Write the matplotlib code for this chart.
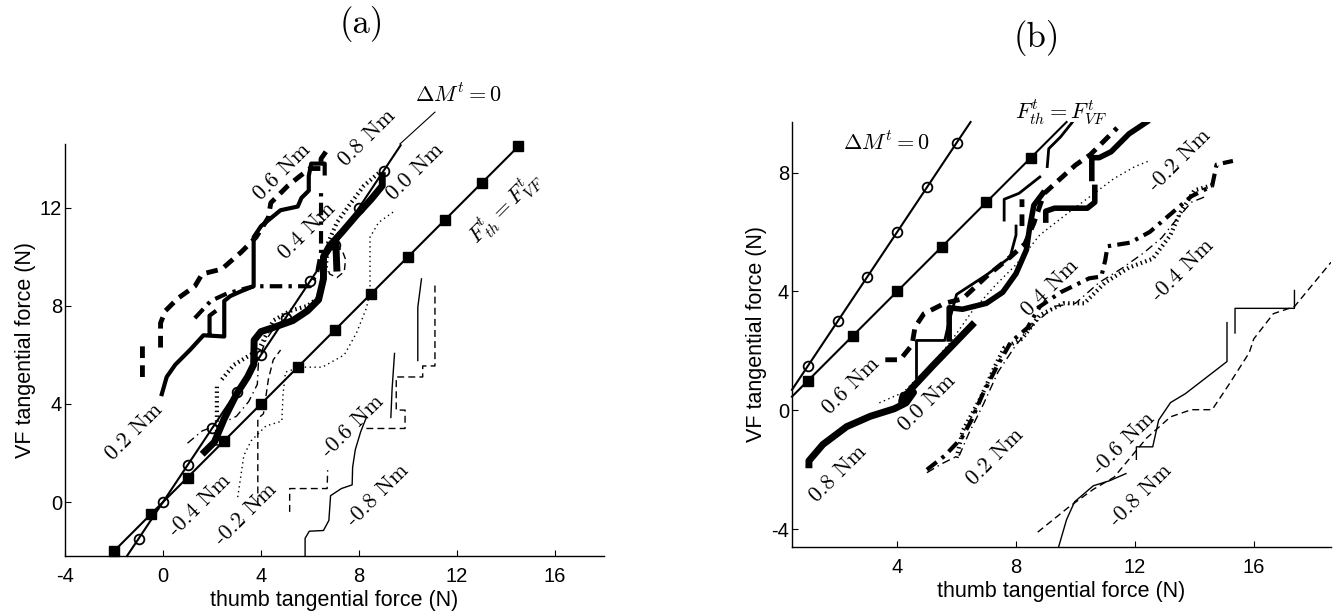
import numpy as np
import matplotlib.pyplot as plt

plt.rcParams['font.family'] = ['Liberation Sans', 'DejaVu Sans']
plt.rcParams['mathtext.fontset'] = 'cm'
plt.rcParams['axes.unicode_minus'] = False

nan = np.nan

# ---------------- panel (a) data ----------------
# Delta M^t = 0 line (circles) and F_th = F_VF line (squares)
a_circ_x = [-1.47, -1, 0, 1, 2, 3, 4, 5, 6, 7, 8, 9, 9.7]
a_circ_y = [-2.2, -1.5, 0, 1.5, 3, 4.5, 6, 7.5, 9, 10.5, 12, 13.5, 14.55]
a_sq_x = [-2, -0.5, 1, 2.5, 4, 5.5, 7, 8.5, 10, 11.5, 13, 14.5]
a_sq_y = [-2, -0.5, 1, 2.5, 4, 5.5, 7, 8.5, 10, 11.5, 13, 14.5]

# torque curves
a_hvy_x = [1.6, 2.1, 2.5, 3.0, 3.45, 3.7, 3.72, 4.0, 4.6, 5.3, 5.9, 6.35, 6.55, 6.55, 6.8, 7.3, 7.9, 8.5, 8.95, 8.95, nan, 7.05, 7.1]
a_hvy_y = [1.95, 2.45, 3.4, 4.4, 5.1, 5.6, 6.6, 6.95, 7.15, 7.4, 7.8, 8.25, 9.1, 10.0, 10.45, 11.0, 11.7, 12.35, 12.9, 13.45, nan, 10.7, 9.4]
a_thk_x = [-0.05, 0.15, 0.5, 1.1, 1.65, 2.5, 2.5, 2.75, 3.2, 3.7, 3.7, 4.0, 4.8, 5.5, 5.65, 5.95, 5.95, 6.05, 6.6, 6.6, nan, 1.9, 1.9, 2.1]
a_thk_y = [4.4, 5.1, 5.6, 6.2, 6.8, 6.75, 8.2, 8.4, 8.6, 8.8, 10.8, 11.25, 11.9, 12.05, 12.4, 12.7, 13.3, 13.8, 13.8, 13.4, nan, 6.85, 7.6, 7.75]
a_hdash_x = [-0.84, -0.84, nan, -0.1, -0.1, 0.1, 0.6, 1.3, 1.6, 2.4, 3.2, 3.8, 4.3, 4.4, 5.1, 5.6, 6.0, 6.45, 6.45, 6.8]
a_hdash_y = [5.1, 6.6, nan, 6.3, 7.3, 7.8, 8.3, 8.8, 9.3, 9.5, 10.2, 10.8, 11.6, 12.2, 12.9, 13.3, 13.6, 13.6, 14.0, 14.5]
a_hdd_x = [1.3, 1.95, 2.6, 3.7, 6.0, 6.3, 6.45, 6.45]
a_hdd_y = [7.5, 8.2, 8.5, 8.8, 8.8, 9.4, 10.2, 12.8]
a_hdot_x = [2.2, 2.2, nan, 2.4, 2.9, 3.4, 3.9, 4.5, 5.2, 5.9, 6.3, 6.6, 6.75, 7.1, 7.6, 8.2, 8.9]
a_hdot_y = [2.3, 4.8, nan, 5.0, 5.6, 5.9, 6.2, 7.4, 7.8, 8.0, 8.3, 9.2, 10.6, 11.4, 12.1, 12.9, 13.5]
a_tdot_x = [3.05, 3.3, 3.6, 4.2, 4.85, 4.9, 5.0, 5.6, 6.5, 7.4, 7.9, 8.3, 8.45, 8.45, 8.8, 9.5]
a_tdot_y = [0.2, 1.9, 2.5, 3.1, 3.3, 4.4, 5.3, 5.5, 5.5, 6.0, 6.9, 7.9, 8.6, 10.8, 11.4, 11.9]
a_tdd_x = [1.0, 1.6, 2.4, 3.0, 3.5, 3.85, 3.9, 4.2, 4.6, 5.2]
a_tdd_y = [2.4, 2.9, 3.2, 3.5, 4.1, 4.8, 5.8, 6.6, 7.2, 7.6]
a_tdash_x = [5.17, 5.17, 6.7, 6.72, nan, 8.3, 9.88, 9.88, 9.52, 9.52, 10.6, 10.6, 11.1, 11.1, nan, 3.87, 3.87, 4.1, 4.3, 4.5, 4.8,
             nan, 6.6, 6.9, 7.3, 7.45, 7.4, 7.1, 6.8, 6.7]
a_tdash_y = [-0.4, 0.55, 0.55, 1.3, nan, 3.0, 3.0, 3.75, 3.75, 5.1, 5.1, 5.55, 5.55, 9.0, nan, -0.1, 3.4, 3.6, 5.0, 5.8, 6.2,
             nan, 10.2, 10.4, 10.3, 9.9, 9.4, 9.15, 9.3, 9.6]
a_tsol_x = [5.8, 5.8, 5.97, 6.55, 6.77, 6.84, 7.28, 7.72, 7.74, 7.85, 8.07, 8.3, nan, 9.3, 9.35, 9.45, nan, 10.4, 10.4, 10.55]
a_tsol_y = [-2.2, -1.48, -1.19, -1.16, -0.75, 0.26, 0.55, 0.7, 1.42, 2.14, 2.87, 3.45, nan, 3.45, 4.6, 6.06, nan, 5.77, 7.94, 9.1]

a_lab_text = ['0.8 Nm', '0.6 Nm', '0.4 Nm', '0.2 Nm', '0.0 Nm', '-0.2 Nm', '-0.4 Nm', '-0.6 Nm', '-0.8 Nm']
a_lab_x = [8.32, 4.84, 5.9, -1.17, 10.28, 3.39, 1.51, 7.74, 8.75]
a_lab_y = [14.87, 13.45, 11.06, 2.87, 13.45, -0.49, -0.13, 3.09, 0.3]

# ---------------- panel (b) data ----------------
b_circ_x = [0.46, 1, 2, 3, 4, 5, 6, 6.47]
b_circ_y = [0.69, 1.5, 3, 4.5, 6, 7.5, 9, 9.7]
b_sq_x = [0.46, 1, 2.5, 4, 5.5, 7, 8.5, 9.7]
b_sq_y = [0.46, 1, 2.5, 4, 5.5, 7, 8.5, 9.7]

b_hvy_x = [1.03, 1.03, 1.5, 2.3, 3.1, 3.9, 4.3, 4.55, 4.2, 4.15, 4.5, 5.2, 6.6]
b_hvy_y = [-1.95, -1.7, -1.15, -0.55, -0.2, 0.05, 0.25, 0.6, 0.5, 0.3, 0.75, 1.5, 2.95]
b_thk_x = [5.75, 5.75, 6.2, 7.0, 7.55, 8.0, 8.35, 8.45, 8.6, 8.9, nan, 9.0, 9.0, 9.3, 10.4, 10.65, 10.65,
           nan, 10.55, 10.55, 10.8, 11.2, 11.8, 12.4]
b_thk_y = [2.4, 3.45, 3.4, 3.6, 3.97, 4.6, 5.4, 6.1, 6.9, 7.3, nan, 6.4, 6.7, 6.8, 6.8, 7.0, 7.5,
           nan, 7.8, 8.5, 8.5, 8.7, 9.3, 9.7]
b_hdash_x = [3.6, 4.1, 4.5, 4.6, 4.9, 5.6, 6.2, 7.0, 7.8, 8.3, 8.6, 8.95, 9.5, 10.0, 10.5, 11.1, 11.4, nan, 8.2, 8.2]
b_hdash_y = [1.7, 1.7, 2.2, 2.8, 3.25, 3.6, 3.75, 4.5, 5.15, 5.6, 6.3, 7.3, 7.8, 8.25, 8.6, 9.2, 9.5, nan, 6.2, 7.1]
b_med_x = [4.65, 4.65, 5.6, 5.75, 6.0, 7.0, 7.8, 8.0, 8.0, nan, 7.6, 7.6, 8.1, 8.8, nan, 9.05, 9.1, 9.5, 9.9]
b_med_y = [1.1, 2.35, 2.35, 3.0, 3.9, 4.55, 5.15, 5.9, 6.2, nan, 6.4, 7.1, 7.3, 7.85, nan, 8.2, 8.8, 9.2, 9.7]
b_hdd_x = [5.0, 5.6, 6.17, 6.5, 6.86, 7.35, 7.83, 8.38, 8.8, 9.5, 10.46, 10.87, 11.0, 11.08, 11.84, 12.5, 13.2, 13.9, 14.6, 14.75, 15.3]
b_hdd_y = [-2.0, -1.53, -0.93, -0.33, 0.5, 1.46, 2.3, 2.77, 3.49, 3.97, 4.44, 4.5, 5.04, 5.52, 5.64, 6.0, 6.6, 7.2, 7.55, 8.27, 8.39]
b_hdot_x = [6.0, 6.2, 6.8, 7.3, 7.6, 8.2, 8.8, 9.6, 10.3, 11.0, 11.8, 12.6, 13.2, 13.5, 14.0, 14.7]
b_hdot_y = [-1.6, -0.7, 0.4, 1.5, 2.1, 2.4, 3.2, 3.6, 3.6, 4.3, 4.8, 5.1, 5.9, 6.6, 7.4, 7.6]
b_tdot_x = [3.4, 4.2, 5.2, 5.8, 6.5, 7.3, 8.0, 8.8, 9.7, 10.5, 11.3, 12.0, 12.5]
b_tdot_y = [0.25, 0.6, 1.6, 2.3, 3.3, 4.2, 4.9, 5.9, 6.6, 7.2, 7.8, 8.2, 8.4]
b_tdd_x = [5.0, 5.5, 6.1, 6.4, 6.9, 7.4, 8.0, 8.6, 9.3, 10.0, 10.8, 11.6, 12.3, 12.9, 13.3, 13.9, 14.4]
b_tdd_y = [-2.1, -1.8, -1.5, -0.8, 0.2, 1.3, 2.2, 2.9, 3.5, 3.6, 4.3, 4.8, 5.3, 5.8, 6.3, 7.0, 7.2]
b_tsol_x = [9.42, 9.7, 9.97, 10.6, 11.15, 11.7, nan, 12.05, 12.05, 12.6, 12.8, 13.2, 13.7, 15.1, 15.1,
            nan, 15.37, 15.37, 17.37, 17.37]
b_tsol_y = [-4.64, -3.68, -3.08, -2.54, -2.37, -2.13, nan, -1.65, -1.23, -1.23, -0.33, 0.26, 0.56, 1.64, 2.95,
            nan, 2.6, 3.43, 3.43, 4.03]
b_tdash_x = [8.73, 9.77, 10.6, 11.3, 11.7, 12.4, 13.2, 13.9, 14.6, 15.16, 15.85, 16.0, 16.66, 17.37, 18.6]
b_tdash_y = [-4.1, -3.26, -2.66, -2.25, -1.77, -0.93, -0.22, 0.02, 0.02, 0.86, 1.94, 2.4, 3.25, 3.49, 4.98]

b_lab_text = ['0.8 Nm', '0.6 Nm', '0.4 Nm', '0.2 Nm', '0.0 Nm', '-0.2 Nm', '-0.4 Nm', '-0.6 Nm', '-0.8 Nm']
b_lab_x = [2.02, 2.44, 9.15, 7.28, 5.02, 13.5, 13.6, 11.63, 12.2]
b_lab_y = [-2.13, 0.84, 4.11, -1.55, 0.24, 8.41, 4.7, -1.11, -2.84]

# ---------------- styles ----------------
heaviest = dict(lw=5.0, solid_capstyle='butt')
thick = dict(lw=3.0)
hdash = dict(lw=3.5, ls=(0, (2.4, 1.5)))
hdd = dict(lw=3.0, ls=(0, (3, 1.5, 0.8, 1.5)))
hdot = dict(lw=3.0, ls=(0, (0.35, 0.8)), dash_capstyle='butt')
medium = dict(lw=2.0)
tsol = dict(lw=1.0)
tdash = dict(lw=1.0, ls=(0, (5, 3)))
tdot = dict(lw=1.0, ls=(0, (1, 2.5)))
tdd = dict(lw=1.0, ls=(0, (6, 3, 1, 3)))

fig = plt.figure(figsize=(13.42, 6.15), dpi=100)
ax1 = fig.add_axes([65 / 1342, 59 / 615, 539 / 1342, 412 / 615])
ax2 = fig.add_axes([792 / 1342, 68 / 615, 539 / 1342, 425 / 615])


def setup(ax, xlim, ylim, xticks, yticks):
    ax.set_xlim(*xlim)
    ax.set_ylim(*ylim)
    ax.set_xticks(xticks)
    ax.set_yticks(yticks)
    ax.spines['top'].set_visible(False)
    ax.spines['right'].set_visible(False)
    for s in ['left', 'bottom']:
        ax.spines[s].set_linewidth(1.0)
    ax.tick_params(direction='in', length=4, width=0.8, labelsize=14.5)
    ax.tick_params(axis='x', pad=8)
    ax.tick_params(axis='y', pad=2)
    ax.set_xlabel('thumb tangential force (N)', fontsize=15.5, labelpad=3)
    ax.set_ylabel('VF tangential force (N)', fontsize=15.5, labelpad=3)


setup(ax1, (-4, 18), (-2.2, 14.6), [-4, 0, 4, 8, 12, 16], [0, 4, 8, 12])
setup(ax2, (0.46, 18.6), (-4.6, 9.7), [4, 8, 12, 16], [-4, 0, 4, 8])

# panel (a)
ax1.plot(a_circ_x, a_circ_y, 'k-', lw=1.5, marker='o', ms=7, mfc='none', mew=1.3,
         markevery=slice(1, -1), clip_on=False)
ax1.plot(a_sq_x, a_sq_y, 'k-', lw=1.5, marker='s', ms=6.5, clip_on=False)
ax1.plot(a_tsol_x, a_tsol_y, color='k', **tsol)
ax1.plot(a_tdash_x, a_tdash_y, color='k', **tdash)
ax1.plot(a_tdot_x, a_tdot_y, color='k', **tdot)
ax1.plot(a_tdd_x, a_tdd_y, color='k', **tdd)
ax1.plot(a_hdot_x, a_hdot_y, color='k', **hdot)
ax1.plot(a_hdd_x, a_hdd_y, color='k', **hdd)
ax1.plot(a_hdash_x, a_hdash_y, color='k', **hdash)
ax1.plot(a_thk_x, a_thk_y, color='k', **thick)
ax1.plot(a_hvy_x, a_hvy_y, color='k', **heaviest)

for t, x, y in zip(a_lab_text, a_lab_x, a_lab_y):
    ax1.text(x, y, t, fontsize=16, family='cmr10', rotation=45,
             ha='center', va='center', rotation_mode='anchor')
ax1.text(13.94, 12.0, r'$F^t_{th} = F^t_{VF}$', fontsize=16, rotation=45,
         ha='center', va='center', rotation_mode='anchor')
ax1.text(12.06, 16.57, r'$\Delta M^t = 0$', fontsize=16, ha='center', va='center')
ax1.plot([9.67, 11.1], [14.6, 15.9], 'k-', lw=0.8, clip_on=False)

# panel (b)
ax2.plot(b_circ_x, b_circ_y, 'k-', lw=1.5, marker='o', ms=7, mfc='none', mew=1.3,
         markevery=slice(1, -1), clip_on=False)
ax2.plot(b_sq_x, b_sq_y, 'k-', lw=1.5, marker='s', ms=6.5, markevery=slice(1, -1), clip_on=False)
ax2.plot(b_tsol_x, b_tsol_y, color='k', **tsol)
ax2.plot(b_tdash_x, b_tdash_y, color='k', **tdash)
ax2.plot(b_tdot_x, b_tdot_y, color='k', **tdot)
ax2.plot(b_tdd_x, b_tdd_y, color='k', **tdd)
ax2.plot(b_hdot_x, b_hdot_y, color='k', **hdot)
ax2.plot(b_hdd_x, b_hdd_y, color='k', **hdd)
ax2.plot(b_med_x, b_med_y, color='k', **medium)
ax2.plot(b_hdash_x, b_hdash_y, color='k', **hdash)
ax2.plot(b_thk_x, b_thk_y, color='k', lw=4.0)
ax2.plot(b_hvy_x, b_hvy_y, color='k', **heaviest)

for t, x, y in zip(b_lab_text, b_lab_x, b_lab_y):
    ax2.text(x, y, t, fontsize=16, family='cmr10', rotation=45,
             ha='center', va='center', rotation_mode='anchor')
ax2.text(9.52, 10.06, r'$F^t_{th} = F^t_{VF}$', fontsize=16, ha='center', va='center')
ax2.text(3.64, 8.98, r'$\Delta M^t = 0$', fontsize=16, ha='center', va='center')

fig.text(362 / 1342, 1 - 24 / 615, '(a)', fontsize=25, family='cmr10', ha='center', va='center')
fig.text(1037 / 1342, 1 - 38 / 615, '(b)', fontsize=25, family='cmr10', ha='center', va='center')

fig.savefig('out.png', dpi=100)
